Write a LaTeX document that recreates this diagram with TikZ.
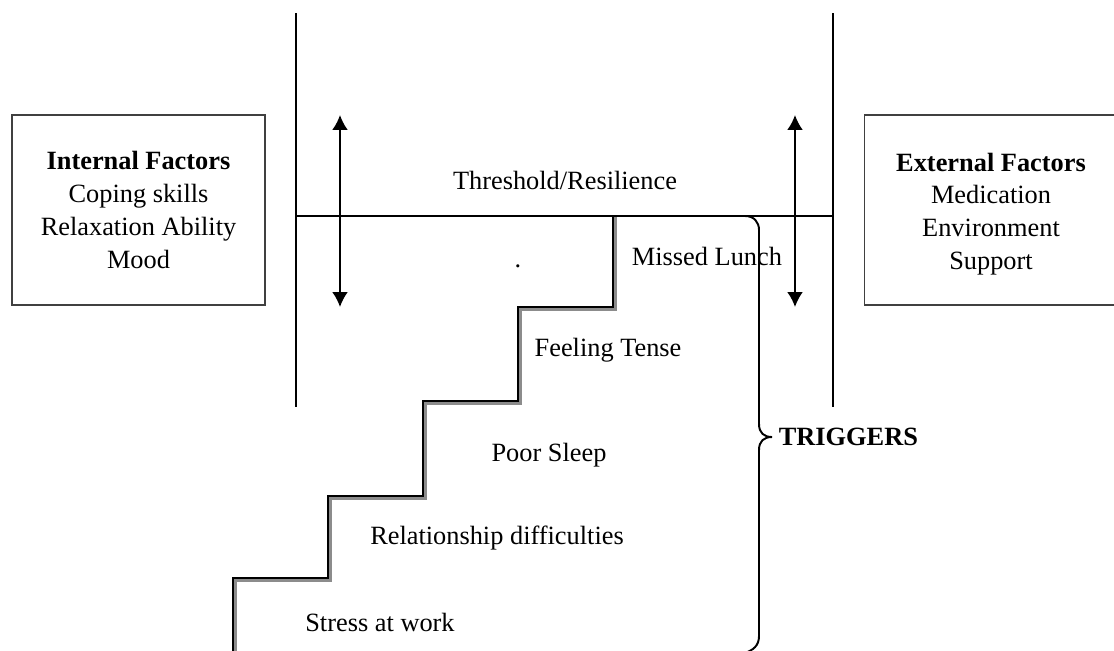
\documentclass[tikz,border=0pt]{standalone}
\usepackage{fontspec}
\setmainfont{Liberation Serif}
\usetikzlibrary{arrows.meta, positioning}

\begin{document}
\begin{tikzpicture}[x=0.02cm, y=-0.02cm, line width=1.1pt,
 font=\fontsize{15}{18.7}\selectfont,
 factor box/.style={draw=black!75, line width=0.9pt, align=center,
   minimum width=5.06cm, minimum height=3.8cm},
 step label/.style={inner sep=1pt},
 updown/.style={{Latex[length=8.5pt,width=9pt]}-{Latex[length=8.5pt,width=9pt]}}]

  \useasboundingbox (0,0) rectangle (1114,650);

  % factor boxes
  \node[factor box] (internal) at (138.5,210) {\textbf{Internal Factors}\\Coping skills\\Relaxation Ability\\Mood};
  \node[factor box] (external) at (991,210) {\rule{0pt}{15pt}\textbf{External Factors}\\Medication\\Environment\\Support};

  % frame and threshold
  \coordinate (lt) at (296,13);  \coordinate (lb) at (296,407);
  \coordinate (rt) at (833,13);  \coordinate (rb) at (833,407);
  \coordinate (thl) at (296,216); \coordinate (thr) at (833,216);
  \draw (lt) -- (lb);
  \draw (rt) -- (rb);
  \draw (thl) -- (thr);
  \node (threshold) at (565,180) {Threshold/Resilience};

  % up/down arrows
  \coordinate (la top) at (340,115); \coordinate (la bot) at (340,307);
  \coordinate (ra top) at (795,115); \coordinate (ra bot) at (795,307);
  \draw[updown] (la top) -- (la bot);
  \draw[updown] (ra top) -- (ra bot);

  % stairs
  \draw[black!45, line width=2.2pt, shift={(2.5,2.5)}] (233,652) -- (233,578) -- (328,578) -- (328,496) -- (423,496)
    -- (423,401) -- (518,401) -- (518,307) -- (613,307) -- (613,214);
  \draw (233,652) -- (233,578) -- (328,578) -- (328,496) -- (423,496)
    -- (423,401) -- (518,401) -- (518,307) -- (613,307) -- (613,216);

  \node[step label] (lunch)   at (707,256) {Missed Lunch};
  \node[step label] (tense)   at (608,350) {Feeling Tense};
  \node[step label] (sleep)   at (549,455) {Poor Sleep};
  \node[step label] (relship) at (497,538) {Relationship difficulties};
  \node[step label] (stress)  at (380,622) {Stress at work};
  \node[step label] (dot)     at (518,266) {.};

  % brace
  \coordinate (tip) at (772,437);
  \draw (703,216) -- (745,216) .. controls (754,216) and (759,222) .. (759,230)
    -- (759,424) .. controls (759,433) and (764,437) .. (tip)
    .. controls (764,437) and (759,441) .. (759,450)
    -- (759,636) .. controls (759,646) and (753,650) .. (745,653);
  \node[right=0pt of tip, font=\fontsize{15}{18.7}\selectfont\bfseries] (triggers) {TRIGGERS};
\end{tikzpicture}
\end{document}
